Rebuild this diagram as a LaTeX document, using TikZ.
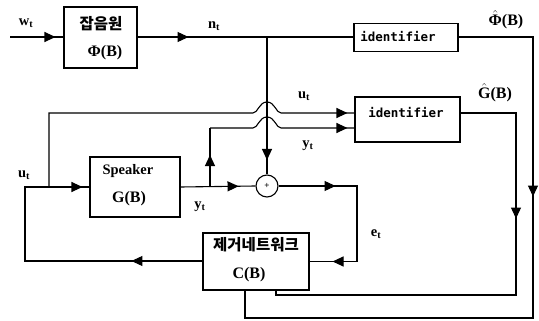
\documentclass[tikz,border=0pt]{standalone}
\usepackage{amsmath}
\usepackage{fontspec}
\setmainfont{Liberation Serif}
\newfontfamily\krfont{Noto Sans CJK KR}
\newfontfamily\idfont{DejaVu Sans Mono}
\usetikzlibrary{arrows.meta,decorations.markings}

\tikzset{
  >={Triangle[length=11pt,width=10pt]},
  wire/.style={line width=1.1pt},
  block/.style={draw, line width=1.1pt, inner sep=0pt},
  ar/.style={postaction={decorate,decoration={markings,mark=at position #1 with {\arrow{>}}}}},
  lbl/.style={font=\fontsize{14.5}{15}\selectfont\bfseries, inner sep=0pt},
  krtxt/.style={font=\fontsize{15.5}{16}\selectfont\krfont\bfseries, inner sep=0pt},
  fntxt/.style={font=\fontsize{16}{16}\selectfont\bfseries, inner sep=0pt},
  spktxt/.style={font=\fontsize{14.5}{15}\selectfont\bfseries, inner sep=0pt},
  idtxt/.style={font=\fontsize{12.5}{13}\selectfont\idfont\bfseries, inner sep=0pt},
}
% hatted capital in the bold text font
\newcommand{\hatted}[1]{$\hat{\text{\bfseries #1}}$}

\begin{document}
\begin{tikzpicture}[x=1pt,y=-1pt]
\useasboundingbox (0,0) rectangle (539,321);

% blocks
\node[block, minimum width=73pt, minimum height=61pt] (noise) at (100.5,37.5) {};
\node[krtxt] at (101,24) {잡음원};
\node[fntxt] at (105,53) {Φ(B)};

\node[block, minimum width=104pt, minimum height=28pt] (id1) at (406,37.5) {};
\node[idtxt] at (398,37) {identifier};

\node[block, minimum width=105pt, minimum height=45pt] (id2) at (407.5,119.5) {};
\node[idtxt] at (406,113) {identifier};

\node[block, minimum width=90pt, minimum height=60pt] (spk) at (135,187) {};
\node[spktxt] at (128,171) {Speaker};
\node[fntxt] at (129,199) {G(B)};

\node[block, minimum width=106pt, minimum height=57pt] (cnet) at (256,261.5) {};
\node[krtxt] at (256,245) {제거네트워크};
\node[fntxt] at (249,275) {C(B)};

\node[draw, circle, line width=1.1pt, minimum size=22pt, inner sep=0pt] (sum) at (267,186) {};
\node[font=\fontsize{9}{9}\selectfont\bfseries, inner sep=0pt] at (sum) {+};

% corner points
\coordinate (win) at (10,37);
\coordinate (ntap) at (267,37);
\coordinate (ub) at (49,187);
\coordinate (yb) at (210,187);
\coordinate (fbl) at (25,261);
\coordinate (ebr) at (357,186);
\coordinate (gcor) at (516,113);
\coordinate (pcor) at (533,37);

% noise path
\draw[wire, ar=-8pt] (win) -- (noise.west |- win);
\draw[wire, ar=51pt] (noise.east |- ntap) -- (ntap);
\draw[wire] (ntap) -- (id1.west |- ntap);
\draw[wire, ar=123pt] (ntap) -- (sum.north);

% speaker loop
\draw[wire, ar=58pt] (spk.east |- yb) -- (sum.west);
\draw[wire, ar=57pt, ar=-23pt] (sum.east) -- (ebr) -- (ebr |- cnet.east) -- (cnet.east);
\draw[wire, ar=71pt, ar=-7pt] (cnet.west |- fbl) -- (fbl) -- (fbl |- ub) -- (spk.west |- ub);

% identifier inputs with hops over the noise line
\draw[wire, ar=-7pt] (ub) -- (49,113) -- (253,113)
  .. controls (258,113) and (259,102) .. (267,102)
  .. controls (275,102) and (276,113) .. (281,113) -- (id2.west |- 0,113);
\draw[wire, ar=32pt] (yb) -- (210,128);
\draw[wire, ar=-7pt] (210,128) -- (253,128)
  .. controls (258,128) and (259,117) .. (267,117)
  .. controls (275,117) and (276,128) .. (281,128) -- (id2.west |- 0,128);

% identifier outputs back to the canceller
\draw[wire, ar=161pt] (id2.east |- gcor) -- (gcor) -- (516,295) -- (276,295) -- (276,290);
\draw[wire, ar=234pt] (id1.east |- pcor) -- (pcor) -- (533,318) -- (245,318) -- (245,290);

% signal labels
\node[lbl] at (26,23) {w\textsubscript{t}};
\node[lbl] at (214,26) {n\textsubscript{t}};
\node[lbl] at (24,175) {u\textsubscript{t}};
\node[lbl] at (304,96) {u\textsubscript{t}};
\node[lbl] at (308,146) {y\textsubscript{t}};
\node[lbl] at (200,207) {y\textsubscript{t}};
\node[lbl] at (376,234) {e\textsubscript{t}};
\node[fntxt] at (506,20) {\hatted{Φ}(B)};
\node[fntxt] at (495,93) {\hatted{G}(B)};
\end{tikzpicture}
\end{document}
